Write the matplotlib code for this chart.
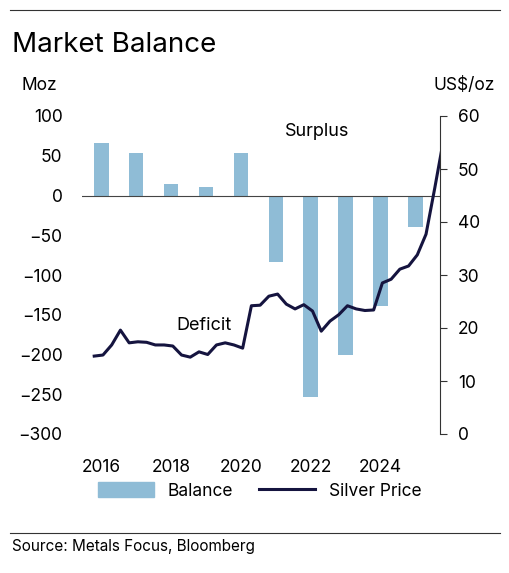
import matplotlib
matplotlib.use("Agg")
import matplotlib.pyplot as plt
from matplotlib.lines import Line2D

plt.rcParams['font.family'] = ['Inter', 'DejaVu Sans']

years = [2016, 2017, 2018, 2019, 2020, 2021, 2022, 2023, 2024, 2025]
balance = [66, 54, 15, 11, 53, -84, -253, -200, -139, -40]

price_start = 2015.8
price_step = 0.25
price = [14.7, 14.9, 16.8, 19.6, 17.2, 17.4, 17.3, 16.8, 16.8, 16.6, 14.9, 14.5, 15.5,
         15.0, 16.8, 17.2, 16.8, 16.2, 24.2, 24.3, 26.0, 26.4, 24.5, 23.6, 24.4, 23.2,
         19.4, 21.3, 22.5, 24.2, 23.6, 23.3, 23.4, 28.5, 29.2, 31.1, 31.7, 33.8, 37.7,
         46.4, 55.5]
price_x = [price_start + price_step * i for i in range(len(price))]

fig = plt.figure(figsize=(5.10, 5.73), dpi=100)
W, H = 510, 573
ax = fig.add_axes([82/W, 1-434/H, (440-82)/W, (434-116)/H])
ax.bar(years, balance, width=0.42, color='#8fbcd6')
ax.axhline(0, color='#444444', lw=0.8)
ax.set_ylim(-300, 100)
ax.set_xlim(2015.45, 2025.7)
ax.set_yticks(range(-300, 101, 50))
ax.set_xticks([2016, 2018, 2020, 2022, 2024])
for s in ['top', 'left', 'bottom', 'right']:
    ax.spines[s].set_visible(False)
ax.tick_params(axis='y', length=0, labelsize=12.5, pad=14)
ax.tick_params(axis='x', length=0, labelsize=12.5, pad=18)

ax2 = ax.twinx()
ax2.plot(price_x, price, color='#15143f', lw=2.2)
ax2.set_ylim(0, 60)
ax2.set_yticks(range(0, 61, 10))
for s in ['top', 'left', 'bottom']:
    ax2.spines[s].set_visible(False)
ax2.spines['right'].set_color('#333333')
ax2.tick_params(axis='y', length=5, labelsize=12.5, pad=8, color='#333333')

ax.text(2021.25, 80, 'Surplus', fontsize=13, ha='left', va='center')
ax.text(2018.15, -163, 'Deficit', fontsize=13, ha='left', va='center')

fig.text(12/W, 1-45/H, 'Market Balance', fontsize=20, va='center')
fig.text(22/W, 1-85/H, 'Moz', fontsize=12.5, va='center')
fig.text(495/W, 1-85/H, 'US$/oz', fontsize=12.5, va='center', ha='right')
fig.text(12/W, 1-546/H, 'Source: Metals Focus, Bloomberg', fontsize=11, va='center')
fig.add_artist(Line2D([10/W, 500/W], [1-10/H, 1-10/H], color='#333333', lw=0.8))
fig.add_artist(Line2D([10/W, 500/W], [1-533/H, 1-533/H], color='#333333', lw=0.8))

handles = [plt.Rectangle((0, 0), 1, 1, color='#8fbcd6'),
           Line2D([], [], color='#15143f', lw=2.2)]
fig.legend(handles, ['Balance', 'Silver Price'], loc='center', bbox_to_anchor=(260/W, 1-491/H),
           ncol=2, frameon=False, fontsize=12.5, handlelength=3.2, handleheight=0.9,
           columnspacing=1.5)

fig.savefig('out.png', dpi=100)
